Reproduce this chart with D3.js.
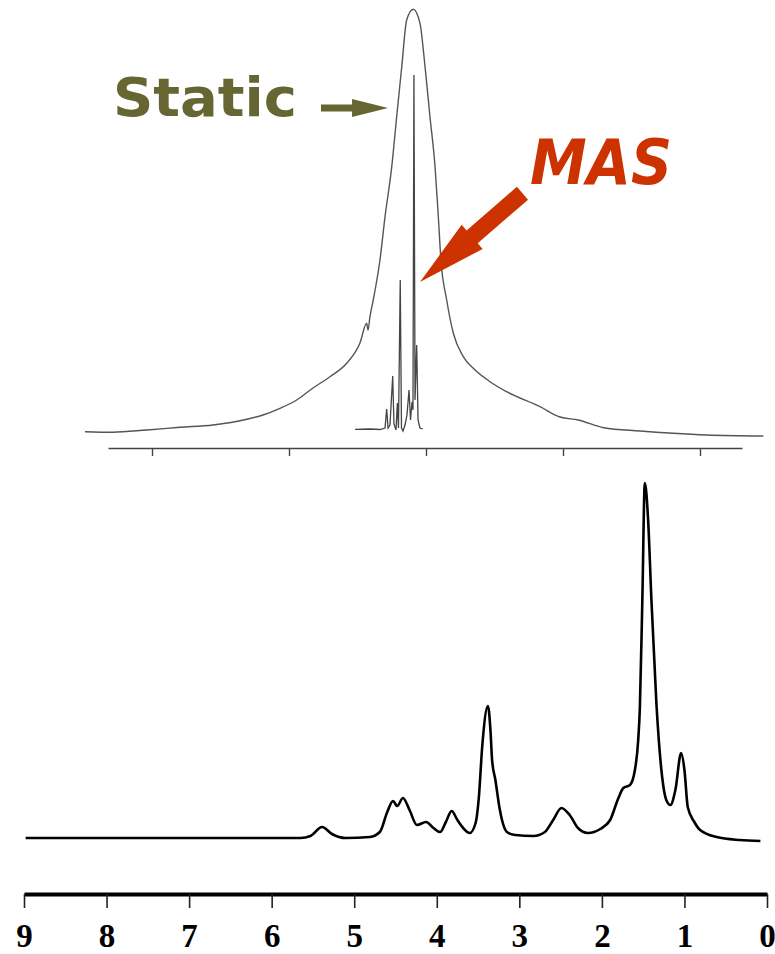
<!DOCTYPE html>
<html>
<head>
<meta charset="utf-8">
<script src="https://cdn.jsdelivr.net/npm/d3@7"></script>
<style>
  body { margin: 0; background: #fff; }
  svg { display: block; }
  .axis-top path, .axis-top line { stroke: #444; stroke-width: 1.4; }
  .axis-bottom path { stroke: #000; stroke-width: 4; }
  .axis-bottom line { stroke: #222; stroke-width: 1.6; }
  .axis-bottom text { font-family: "Liberation Serif", serif; font-weight: bold; font-size: 33px; fill: #000; }
</style>
</head>
<body>
<div id="chart"></div>
<script>
// Static vs MAS NMR spectra
const W = 775, H = 954;

// top panel: static broad line (relative offset units, intensity a.u.)
const staticShift = [2.489, 2.285, 2.039, 1.796, 1.555, 1.309, 1.190, 1.066, 0.944, 0.825, 0.701, 0.579, 0.482,
  0.433, 0.423, 0.409, 0.385, 0.336, 0.299, 0.250, 0.214, 0.177, 0.141, 0.093, 0.044, 0.007, -0.029, -0.066,
  -0.090, -0.109, -0.151, -0.199, -0.272, -0.345, -0.467, -0.589, -0.832, -0.978, -1.110, -1.297, -1.562,
  -1.803, -2.049, -2.462];
const staticInt = [8.3, 7.8, 10, 12.7, 15, 20.7, 25, 31.7, 40, 52, 63.3, 76.7, 97,
  116.7, 110, 123.3, 140, 180, 223.3, 273.3, 323.3, 373.3, 420, 430.7, 416.7, 373.3, 323.3, 273.3,
  223.3, 180, 140, 107, 83.3, 71.7, 58.3, 48.3, 33.3, 23, 20, 12.3, 9,
  6.7, 5, 4];

// top panel: MAS spectrum
const masShift = [0.518, 0.409, 0.336, 0.299, 0.287, 0.277, 0.263, 0.243, 0.234, 0.219, 0.209, 0.201, 0.188,
  0.179, 0.168, 0.153, 0.139, 0.124, 0.113, 0.102, 0.095, 0.088, 0.080, 0.068, 0.058, 0.044, 0.024];
const masInt = [10.7, 11, 10.5, 12, 31, 12, 15, 64, 16, 10, 37, 12, 160,
  12, 9, 15, 25, 50, 20, 38, 30, 365, 40, 95, 20, 12, 11];

// bottom panel: high resolution spectrum (ppm, intensity a.u.)
const ppm = [8.98, 8.0, 7.0, 6.0, 5.65, 5.53, 5.39, 5.27, 5.11, 4.81, 4.69, 4.60, 4.53, 4.48, 4.41, 4.33, 4.24,
  4.13, 4.04, 3.96, 3.89, 3.82, 3.75, 3.68, 3.60, 3.53, 3.49, 3.45, 3.38, 3.35, 3.33, 3.29, 3.24, 3.21,
  3.15, 3.05, 2.83, 2.69, 2.59, 2.49, 2.39, 2.29, 2.17, 2.02, 1.90, 1.80, 1.74, 1.66, 1.60, 1.56, 1.54,
  1.51, 1.48, 1.44, 1.40, 1.34, 1.27, 1.22, 1.17, 1.11, 1.04, 1.00, 0.96, 0.88, 0.81, 0.61, 0.33, 0.08];
const intensity = [0, 0, 0, 0, 0, 2, 11, 4, 0, 1, 6, 26, 37, 32, 40, 28, 13,
  16, 10, 6, 16, 27, 18, 10, 5, 15, 41, 91, 132, 108, 78, 58, 30, 18,
  6, 3, 2, 6, 18, 30, 23, 10, 5, 9, 18, 40, 50, 53, 68, 98, 130,
  238, 355, 318, 238, 135, 61, 38, 33, 48, 85, 68, 31, 16, 8, 1, -2, -3];

const topTicks = [2, 1, 0, -1, -2];
const ppmTicks = [9, 8, 7, 6, 5, 4, 3, 2, 1, 0];

const svg = d3.select("#chart").append("svg")
  .attr("width", W).attr("height", H);

// scales
const xTop = d3.scaleLinear().domain([2.5, -2.5]).range([83.5, 768.5]);
const yTop = d3.scaleLinear().domain([0, 440]).range([440, 0]);
const xBot = d3.scaleLinear().domain([9, 0]).range([24, 767]);
const yBot = d3.scaleLinear().domain([0, 360]).range([838, 478]);

// top axis (unlabelled)
const xTopAxisScale = xTop.copy().domain([xTop.invert(108), xTop.invert(742)]).range([108, 742]);
svg.append("g")
  .attr("class", "axis-top")
  .attr("transform", "translate(0,448)")
  .call(d3.axisBottom(xTopAxisScale).tickValues(topTicks).tickSize(8).tickSizeOuter(0).tickFormat(""));

// bottom axis
const botAxis = svg.append("g")
  .attr("class", "axis-bottom")
  .attr("transform", "translate(0,894)")
  .call(d3.axisBottom(xBot).tickValues(ppmTicks).tickSize(14).tickSizeOuter(0).tickFormat(d3.format("d")));
botAxis.selectAll("text").attr("y", 53).attr("dy", 0);

// curves
const staticLine = d3.line()
  .x((d, i) => xTop(staticShift[i]))
  .y((d, i) => yTop(staticInt[i]))
  .curve(d3.curveMonotoneX);
svg.append("path")
  .attr("d", staticLine(staticShift))
  .attr("fill", "none").attr("stroke", "#555").attr("stroke-width", 1.4);

const masLine = d3.line()
  .x((d, i) => xTop(masShift[i]))
  .y((d, i) => yTop(masInt[i]));
svg.append("path")
  .attr("d", masLine(masShift))
  .attr("fill", "none").attr("stroke", "#444").attr("stroke-width", 1.3);

const botLine = d3.line()
  .x((d, i) => xBot(ppm[i]))
  .y((d, i) => yBot(intensity[i]))
  .curve(d3.curveMonotoneX);
svg.append("path")
  .attr("d", botLine(ppm))
  .attr("fill", "none").attr("stroke", "#000").attr("stroke-width", 2.6)
  .attr("stroke-linejoin", "round");

// arrow polygon helper
function arrow(x0, y0, x1, y1, shaftW, headW, headL) {
  const dx = x1 - x0, dy = y1 - y0, len = Math.hypot(dx, dy);
  const ux = dx / len, uy = dy / len, nx = -uy, ny = ux;
  const bx = x1 - ux * headL, by = y1 - uy * headL;
  const p = [
    [x0 + nx * shaftW / 2, y0 + ny * shaftW / 2],
    [bx + nx * shaftW / 2, by + ny * shaftW / 2],
    [bx + nx * headW / 2, by + ny * headW / 2],
    [x1, y1],
    [bx - nx * headW / 2, by - ny * headW / 2],
    [bx - nx * shaftW / 2, by - ny * shaftW / 2],
    [x0 - nx * shaftW / 2, y0 - ny * shaftW / 2]
  ];
  return p.map(q => q.join(",")).join(" ");
}

// Static label + arrow
svg.append("text")
  .attr("x", 113).attr("y", 116)
  .attr("font-family", "'DejaVu Sans', sans-serif")
  .attr("font-weight", "bold").attr("font-size", 53)
  .attr("textLength", 184).attr("lengthAdjust", "spacingAndGlyphs")
  .attr("fill", "#666633")
  .text("Static");
svg.append("polygon")
  .attr("points", arrow(321, yTop(332), xTop(0.277), yTop(332), 7, 18, 36))
  .attr("fill", "#666633");

// MAS label + arrow
svg.append("text")
  .attr("x", 530).attr("y", 184)
  .attr("font-family", "'DejaVu Sans', sans-serif")
  .attr("font-weight", "bold").attr("font-style", "italic").attr("font-size", 62)
  .attr("textLength", 142).attr("lengthAdjust", "spacingAndGlyphs")
  .attr("fill", "#cc3300")
  .text("MAS");
svg.append("polygon")
  .attr("points", arrow(522.5, 193.3, xTop(0.044), yTop(158), 17, 32, 69))
  .attr("fill", "#cc3300");
</script>
</body>
</html>
